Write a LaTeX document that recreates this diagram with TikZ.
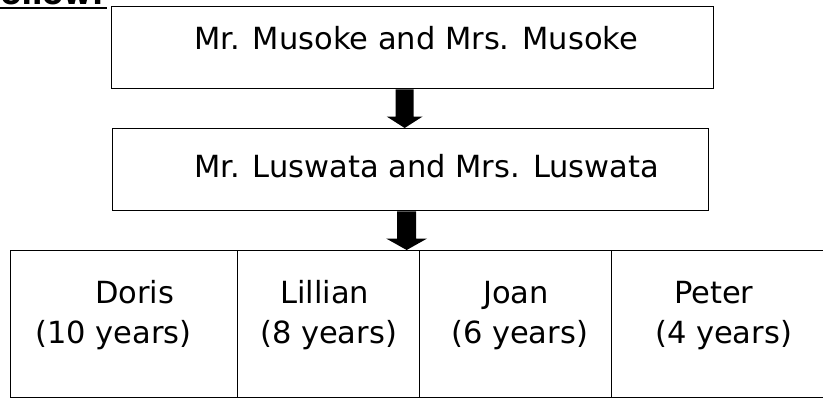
\documentclass[tikz,border=0pt]{standalone}
\usepackage{fontspec}
\setmainfont{DejaVu Sans}
\usetikzlibrary{calc}
\begin{document}
\begin{tikzpicture}[x=1pt,y=-1pt,
  box/.style={draw=black, line width=1.3pt, rectangle, inner sep=0pt, anchor=north west},
  lbl/.style={anchor=base west, inner sep=0pt, font=\fontsize{30.5}{36}\selectfont}]
\useasboundingbox (0,0) rectangle (823,397);
\clip (0,0) rectangle (823,397);
% cut-off heading
\node[anchor=base east, inner sep=0pt, font=\bfseries\fontsize{30.5}{36}\selectfont] (fol) at (104,4) {follow:};
\draw[line width=2.6pt] ([yshift=-4pt,xshift=-60pt]fol.base west) -- ([yshift=-4pt,xshift=3pt]fol.base east);
% boxes
\node[box, minimum width=602pt, minimum height=82pt] (top) at (111,6) {};
\node[box, minimum width=596pt, minimum height=82pt] (mid) at (112,128) {};
\node[box, minimum width=227pt, minimum height=146.8pt] (c1) at (10,250) {};
\node[box, minimum width=182pt, minimum height=146.8pt] (c2) at (237,250) {};
\node[box, minimum width=192pt, minimum height=146.8pt] (c3) at (419,250) {};
\node[box, minimum width=240pt, minimum height=146.8pt] (c4) at (611,250) {};
% texts
\node[lbl] (tt) at (194,49) {Mr. Musoke and Mrs. Musoke};
\node[lbl] (mt) at (194,177) {Mr. Luswata and Mrs. Luswata};
\node[lbl] (n1) at (95,303) {Doris};
\node[lbl] (a1) at (35,343) {(10 years)};
\node[lbl] (n2) at (280,303) {Lillian};
\node[lbl] (a2) at (260,343) {(8 years)};
\node[lbl] (n3) at (483,303) {Joan};
\node[lbl] (a3) at (451,343) {(6 years)};
\node[lbl] (n4) at (674,303) {Peter};
\node[lbl] (a4) at (655,343) {(4 years)};
% block arrows
\fill let \p1=([xshift=-8pt]top.south), \p2=(mid.north) in
  (\x1-9pt,\y1) -- (\x1+9pt,\y1) -- (\x1+9pt,\y2+11.5pt) -- (\x1+18pt,\y2+11.5pt)
  -- (\x1,\y2) -- (\x1-18pt,\y2+11.5pt) -- (\x1-9pt,\y2+11.5pt) -- cycle;
\fill let \p1=([xshift=-4pt]mid.south), \p2=(c2.north) in
  (\x1-9.5pt,\y1) -- (\x1+9.5pt,\y1) -- (\x1+9.5pt,\y2+11.5pt) -- (\x1+20.5pt,\y2+11.5pt)
  -- (\x1,\y2) -- (\x1-20.5pt,\y2+11.5pt) -- (\x1-9.5pt,\y2+11.5pt) -- cycle;
\end{tikzpicture}
\end{document}
